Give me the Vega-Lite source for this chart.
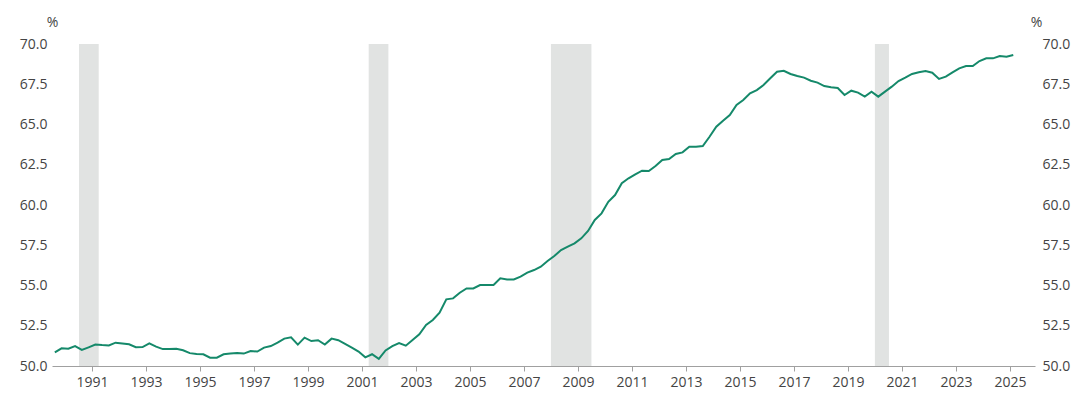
{
  "$schema": "https://vega.github.io/schema/vega-lite/v6.json",
  "autosize": {"type": "none"},
  "width": 983,
  "height": 322,
  "padding": {"left": 52, "top": 44, "right": 40, "bottom": 27},
  "background": "white",
  "config": {
    "view": {"stroke": null},
    "font": "Open Sans",
    "axis": {"labelFont": "Open Sans", "titleFont": "Open Sans", "labelFontSize": 14, "titleFontSize": 14, "labelColor": "#444444", "titleColor": "#444444", "titleFontWeight": "normal", "grid": false}
  },
  "datasets": {
    "recessions": [
      {"start": 1990.52, "end": 1991.25},
      {"start": 2001.25, "end": 2001.98},
      {"start": 2008.0, "end": 2009.5},
      {"start": 2020.0, "end": 2020.52}
    ],
    "series": [
      {"year": 1989.625, "value": 50.85}, {"year": 1989.875, "value": 51.1}, {"year": 1990.125, "value": 51.07}, {"year": 1990.375, "value": 51.24},
      {"year": 1990.625, "value": 51.0}, {"year": 1990.875, "value": 51.16}, {"year": 1991.125, "value": 51.33}, {"year": 1991.375, "value": 51.3},
      {"year": 1991.625, "value": 51.28}, {"year": 1991.875, "value": 51.45}, {"year": 1992.125, "value": 51.4}, {"year": 1992.375, "value": 51.35},
      {"year": 1992.625, "value": 51.17}, {"year": 1992.875, "value": 51.18}, {"year": 1993.125, "value": 51.41}, {"year": 1993.375, "value": 51.2},
      {"year": 1993.625, "value": 51.05}, {"year": 1993.875, "value": 51.05}, {"year": 1994.125, "value": 51.07}, {"year": 1994.375, "value": 50.98},
      {"year": 1994.625, "value": 50.8}, {"year": 1994.875, "value": 50.75}, {"year": 1995.125, "value": 50.73}, {"year": 1995.375, "value": 50.52},
      {"year": 1995.625, "value": 50.52}, {"year": 1995.875, "value": 50.73}, {"year": 1996.125, "value": 50.77}, {"year": 1996.375, "value": 50.81},
      {"year": 1996.625, "value": 50.77}, {"year": 1996.875, "value": 50.93}, {"year": 1997.125, "value": 50.9}, {"year": 1997.375, "value": 51.14},
      {"year": 1997.625, "value": 51.24}, {"year": 1997.875, "value": 51.45}, {"year": 1998.125, "value": 51.7}, {"year": 1998.375, "value": 51.78},
      {"year": 1998.625, "value": 51.33}, {"year": 1998.875, "value": 51.76}, {"year": 1999.125, "value": 51.55}, {"year": 1999.375, "value": 51.6},
      {"year": 1999.625, "value": 51.33}, {"year": 1999.875, "value": 51.7}, {"year": 2000.125, "value": 51.6}, {"year": 2000.375, "value": 51.37},
      {"year": 2000.625, "value": 51.14}, {"year": 2000.875, "value": 50.9}, {"year": 2001.125, "value": 50.54}, {"year": 2001.375, "value": 50.73},
      {"year": 2001.625, "value": 50.44}, {"year": 2001.875, "value": 50.97}, {"year": 2002.125, "value": 51.24}, {"year": 2002.375, "value": 51.43},
      {"year": 2002.625, "value": 51.26}, {"year": 2002.875, "value": 51.61}, {"year": 2003.125, "value": 51.97}, {"year": 2003.375, "value": 52.55},
      {"year": 2003.625, "value": 52.86}, {"year": 2003.875, "value": 53.31}, {"year": 2004.125, "value": 54.14}, {"year": 2004.375, "value": 54.2},
      {"year": 2004.625, "value": 54.55}, {"year": 2004.875, "value": 54.82}, {"year": 2005.125, "value": 54.82}, {"year": 2005.375, "value": 55.03},
      {"year": 2005.625, "value": 55.03}, {"year": 2005.875, "value": 55.03}, {"year": 2006.125, "value": 55.45}, {"year": 2006.375, "value": 55.38},
      {"year": 2006.625, "value": 55.38}, {"year": 2006.875, "value": 55.55}, {"year": 2007.125, "value": 55.8}, {"year": 2007.375, "value": 55.96},
      {"year": 2007.625, "value": 56.17}, {"year": 2007.875, "value": 56.52}, {"year": 2008.125, "value": 56.83}, {"year": 2008.375, "value": 57.2},
      {"year": 2008.625, "value": 57.41}, {"year": 2008.875, "value": 57.62}, {"year": 2009.125, "value": 57.93}, {"year": 2009.375, "value": 58.39},
      {"year": 2009.625, "value": 59.07}, {"year": 2009.875, "value": 59.48}, {"year": 2010.125, "value": 60.2}, {"year": 2010.375, "value": 60.62},
      {"year": 2010.625, "value": 61.35}, {"year": 2010.875, "value": 61.66}, {"year": 2011.125, "value": 61.9}, {"year": 2011.375, "value": 62.13},
      {"year": 2011.625, "value": 62.11}, {"year": 2011.875, "value": 62.42}, {"year": 2012.125, "value": 62.8}, {"year": 2012.375, "value": 62.86},
      {"year": 2012.625, "value": 63.17}, {"year": 2012.875, "value": 63.27}, {"year": 2013.125, "value": 63.62}, {"year": 2013.375, "value": 63.62},
      {"year": 2013.625, "value": 63.66}, {"year": 2013.875, "value": 64.24}, {"year": 2014.125, "value": 64.86}, {"year": 2014.375, "value": 65.24},
      {"year": 2014.625, "value": 65.59}, {"year": 2014.875, "value": 66.21}, {"year": 2015.125, "value": 66.52}, {"year": 2015.375, "value": 66.94},
      {"year": 2015.625, "value": 67.14}, {"year": 2015.875, "value": 67.45}, {"year": 2016.125, "value": 67.87}, {"year": 2016.375, "value": 68.28},
      {"year": 2016.625, "value": 68.34}, {"year": 2016.875, "value": 68.14}, {"year": 2017.125, "value": 68.01}, {"year": 2017.375, "value": 67.91},
      {"year": 2017.625, "value": 67.72}, {"year": 2017.875, "value": 67.6}, {"year": 2018.125, "value": 67.39}, {"year": 2018.375, "value": 67.31},
      {"year": 2018.625, "value": 67.27}, {"year": 2018.875, "value": 66.83}, {"year": 2019.125, "value": 67.1}, {"year": 2019.375, "value": 66.98},
      {"year": 2019.625, "value": 66.73}, {"year": 2019.875, "value": 67.04}, {"year": 2020.125, "value": 66.73}, {"year": 2020.375, "value": 67.04},
      {"year": 2020.625, "value": 67.35}, {"year": 2020.875, "value": 67.7}, {"year": 2021.125, "value": 67.91}, {"year": 2021.375, "value": 68.14},
      {"year": 2021.625, "value": 68.24}, {"year": 2021.875, "value": 68.32}, {"year": 2022.125, "value": 68.22}, {"year": 2022.375, "value": 67.83},
      {"year": 2022.625, "value": 67.97}, {"year": 2022.875, "value": 68.24}, {"year": 2023.125, "value": 68.49}, {"year": 2023.375, "value": 68.63},
      {"year": 2023.625, "value": 68.63}, {"year": 2023.875, "value": 68.94}, {"year": 2024.125, "value": 69.11}, {"year": 2024.375, "value": 69.11},
      {"year": 2024.625, "value": 69.25}, {"year": 2024.875, "value": 69.21}, {"year": 2025.125, "value": 69.32}
    ]
  },
  "layer": [
    {
      "data": {"name": "recessions"},
      "mark": {"type": "rect", "color": "#e1e3e2"},
      "encoding": {
        "x": {"field": "start", "type": "quantitative", "scale": {"domain": [1989.52, 2025.93], "nice": false, "zero": false},
              "axis": {"values": [1991,1993,1995,1997,1999,2001,2003,2005,2007,2009,2011,2013,2015,2017,2019,2021,2023,2025], "format": "d", "title": null, "domainColor": "#a0a0a0", "tickColor": "#a0a0a0", "tickSize": 5, "labelPadding": 4, "labelFlush": false}},
        "x2": {"field": "end"}
      }
    },
    {
      "data": {"name": "series"},
      "mark": {"type": "line", "color": "#15896a", "strokeWidth": 2},
      "encoding": {
        "x": {"field": "year", "type": "quantitative"},
        "y": {"field": "value", "type": "quantitative", "scale": {"domain": [50, 70], "nice": false, "zero": false},
              "axis": {"orient": "left", "values": [50,52.5,55,57.5,60,62.5,65,67.5,70], "format": ".1f", "domain": false, "ticks": false, "labelPadding": 5,
                       "title": "%", "titleAngle": 0, "titleX": 0, "titleY": -22, "titleAlign": "center", "titleBaseline": "middle"}}
      }
    },
    {
      "data": {"name": "series"},
      "mark": {"type": "line", "color": "#15896a", "strokeWidth": 2, "opacity": 0},
      "encoding": {
        "x": {"field": "year", "type": "quantitative"},
        "y": {"field": "value", "type": "quantitative", "scale": {"domain": [50, 70], "nice": false, "zero": false},
              "axis": {"orient": "right", "values": [50,52.5,55,57.5,60,62.5,65,67.5,70], "format": ".1f", "domain": false, "ticks": false, "labelPadding": 7,
                       "title": "%", "titleAngle": 0, "titleX": 1, "titleY": -22, "titleAlign": "center", "titleBaseline": "middle"}}
      }
    }
  ],
  "resolve": {"scale": {"y": "independent"}, "axis": {"y": "independent"}}
}
